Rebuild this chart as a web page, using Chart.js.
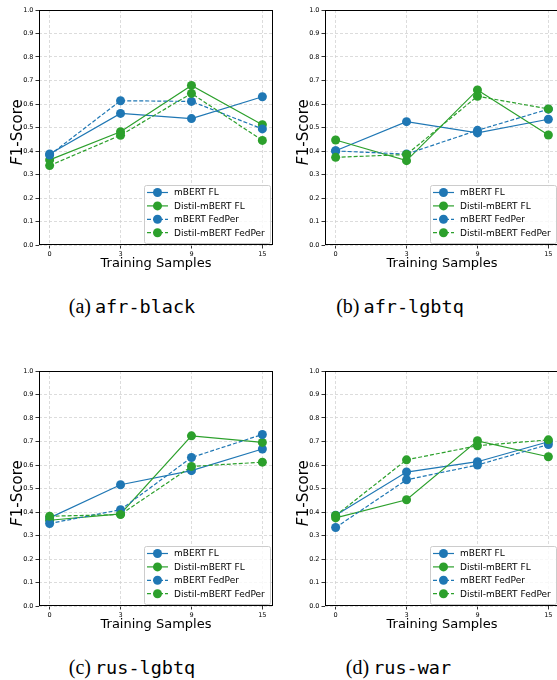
<!DOCTYPE html>
<html>
<head>
<meta charset="utf-8">
<script src="https://cdn.jsdelivr.net/npm/chart.js@4.4.1/dist/chart.umd.min.js"></script>
<style>
  html, body { margin:0; padding:0; background:#fff; }
  body { width:557px; height:680px; overflow:hidden; position:relative; }
  .panel { position:absolute; width:278px; height:280px; }
  .cap { position:absolute; height:24px; line-height:24px; text-align:center; color:#000; white-space:nowrap; }
  .cap .ser { font-family:"Liberation Serif", serif; font-size:20px; }
  .cap .mono { font-family:"DejaVu Sans Mono", monospace; font-size:18.5px; }
</style>
</head>
<body>
<div class="panel" style="left:0;top:0"><canvas id="c0" width="278" height="280"></canvas></div>
<div class="panel" style="left:286px;top:0"><canvas id="c1" width="278" height="280"></canvas></div>
<div class="panel" style="left:0;top:361px"><canvas id="c2" width="278" height="280"></canvas></div>
<div class="panel" style="left:286px;top:361px"><canvas id="c3" width="278" height="280"></canvas></div>

<div class="cap" style="left:0;width:264px;top:294px"><span class="ser">(a)</span> <span class="mono">afr-black</span></div>
<div class="cap" style="left:278px;width:244px;top:294px"><span class="ser">(b)</span> <span class="mono">afr-lgbtq</span></div>
<div class="cap" style="left:0;width:264px;top:655px"><span class="ser">(c)</span> <span class="mono">rus-lgbtq</span></div>
<div class="cap" style="left:278px;width:241px;top:655px"><span class="ser">(d)</span> <span class="mono">rus-war</span></div>

<script>
// ---- data ----
const xLabels = ['0', '3', '9', '15'];
const yTicks = [0.0, 0.1, 0.2, 0.3, 0.4, 0.5, 0.6, 0.7, 0.8, 0.9, 1.0];
const seriesNames = ['mBERT FL', 'Distil-mBERT FL', 'mBERT FedPer', 'Distil-mBERT FedPer'];

// (a) afr-black
const afrBlack_mbertFL       = [0.387, 0.560, 0.538, 0.631];
const afrBlack_distilFL      = [0.362, 0.482, 0.679, 0.512];
const afrBlack_mbertFedPer   = [0.383, 0.614, 0.611, 0.494];
const afrBlack_distilFedPer  = [0.338, 0.467, 0.645, 0.445];
// (b) afr-lgbtq
const afrLgbtq_mbertFL       = [0.401, 0.525, 0.477, 0.535];
const afrLgbtq_distilFL      = [0.447, 0.359, 0.660, 0.468];
const afrLgbtq_mbertFedPer   = [0.400, 0.387, 0.488, 0.578];
const afrLgbtq_distilFedPer  = [0.373, 0.385, 0.633, 0.579];
// (c) rus-lgbtq
const rusLgbtq_mbertFL       = [0.375, 0.516, 0.576, 0.668];
const rusLgbtq_distilFL      = [0.365, 0.392, 0.724, 0.696];
const rusLgbtq_mbertFedPer   = [0.351, 0.410, 0.632, 0.730];
const rusLgbtq_distilFedPer  = [0.382, 0.389, 0.594, 0.612];
// (d) rus-war
const rusWar_mbertFL         = [0.386, 0.570, 0.614, 0.699];
const rusWar_distilFL        = [0.375, 0.452, 0.703, 0.635];
const rusWar_mbertFedPer     = [0.334, 0.537, 0.600, 0.687];
const rusWar_distilFedPer    = [0.385, 0.622, 0.682, 0.707];

const panels = [
  [afrBlack_mbertFL, afrBlack_distilFL, afrBlack_mbertFedPer, afrBlack_distilFedPer],
  [afrLgbtq_mbertFL, afrLgbtq_distilFL, afrLgbtq_mbertFedPer, afrLgbtq_distilFedPer],
  [rusLgbtq_mbertFL, rusLgbtq_distilFL, rusLgbtq_mbertFedPer, rusLgbtq_distilFedPer],
  [rusWar_mbertFL, rusWar_distilFL, rusWar_mbertFedPer, rusWar_distilFedPer]
];

// ---- styles ----
const BLUE = '#1f77b4', GREEN = '#2ca02c';
const colors = [BLUE, GREEN, BLUE, GREEN];
const dashes = [[], [], [4, 2], [4, 2]];
const FONT = '"DejaVu Sans", sans-serif';

const framePlugin = {
  id: 'frameAndTitles',
  afterDraw(chart) {
    const ctx = chart.ctx, a = chart.chartArea;
    ctx.save();
    // frame
    const l = Math.round(a.left) + 0.5, t = Math.round(a.top) + 0.5;
    const r = Math.round(a.right) - 0.5, b = Math.round(a.bottom) - 0.5;
    ctx.strokeStyle = '#000';
    ctx.lineWidth = 1;
    ctx.setLineDash([]);
    ctx.strokeRect(l, t, r - l, b - t);

    // x title
    ctx.fillStyle = '#000';
    ctx.font = '13px ' + FONT;
    ctx.textAlign = 'center';
    ctx.textBaseline = 'middle';
    ctx.fillText('Training Samples', (a.left + a.right) / 2, a.bottom + 19);

    // y title (italic F + 1-Score)
    ctx.translate(18, (a.top + a.bottom) / 2 + 5);
    ctx.rotate(-Math.PI / 2);
    ctx.textAlign = 'left';
    ctx.textBaseline = 'middle';
    const fItal = 'italic 15px ' + FONT, fNorm = '15px ' + FONT;
    ctx.font = fItal; const w1 = ctx.measureText('F').width;
    ctx.font = fNorm; const w2 = ctx.measureText('1-Score').width;
    const x0 = -(w1 + w2) / 2;
    ctx.font = fItal; ctx.fillText('F', x0, 0);
    ctx.font = fNorm; ctx.fillText('1-Score', x0 + w1 + 0.5, 0);
    ctx.restore();

    // legend
    ctx.save();
    const bw = 126, bh = 58;
    const bx = a.right - 3 - bw, by = a.bottom - 2 - bh;
    ctx.beginPath();
    if (ctx.roundRect) ctx.roundRect(bx + 0.5, by + 0.5, bw, bh, 2); else ctx.rect(bx + 0.5, by + 0.5, bw, bh);
    ctx.fillStyle = 'rgba(255,255,255,0.8)';
    ctx.fill();
    ctx.strokeStyle = '#cccccc';
    ctx.lineWidth = 1;
    ctx.stroke();
    ctx.font = '9px ' + FONT;
    ctx.textAlign = 'left';
    ctx.textBaseline = 'middle';
    chart.data.datasets.forEach((ds, i) => {
      const cy = by + 7.5 + i * 13.4;
      ctx.strokeStyle = ds.borderColor;
      ctx.lineWidth = 1.2;
      ctx.setLineDash(ds.borderDash || []);
      ctx.beginPath();
      ctx.moveTo(bx + 3, cy);
      ctx.lineTo(bx + 24, cy);
      ctx.stroke();
      ctx.setLineDash([]);
      ctx.fillStyle = ds.borderColor;
      ctx.beginPath();
      ctx.arc(bx + 13.5, cy, 4.5, 0, Math.PI * 2);
      ctx.fill();
      ctx.fillStyle = '#000';
      ctx.fillText(ds.label, bx + 30, cy + 0.5);
    });
    ctx.restore();
  }
};

panels.forEach((series, p) => {
  const datasets = series.map((vals, k) => ({
    label: seriesNames[k],
    data: vals.map((v, i) => ({ x: i, y: v })),
    borderColor: colors[k],
    backgroundColor: colors[k],
    borderWidth: 1.2,
    borderDash: dashes[k],
    pointRadius: 4.5,
    pointHoverRadius: 4.5,
    pointBackgroundColor: colors[k],
    pointBorderColor: colors[k],
    pointBorderWidth: 0,
    tension: 0,
    fill: false,
    order: 3 - k
  }));
  new Chart(document.getElementById('c' + p), {
    type: 'line',
    data: { datasets },
    options: {
      responsive: false,
      animation: false,
      devicePixelRatio: 1,
      layout: { padding: { top: 10, right: 5, left: 0, bottom: 0 } },
      plugins: { legend: { display: false }, tooltip: { enabled: false }, title: { display: false } },
      scales: {
        x: {
          type: 'linear',
          min: -0.15, max: 3.15,
          afterBuildTicks: s => { s.ticks = xLabels.map((_, i) => ({ value: i })); },
          afterFit: s => { s.height = 35; },
          ticks: {
            callback: v => xLabels[Math.round(v)],
            font: { family: FONT, size: 6.5 },
            color: '#000',
            padding: 2,
            maxRotation: 0,
            autoSkip: false
          },
          grid: { color: '#d3d3d3', lineWidth: 0.8, drawTicks: true, tickLength: 3.5, tickColor: '#000', tickWidth: 0.8 },
          border: { display: false, dash: [3, 2] }
        },
        y: {
          type: 'linear',
          min: 0, max: 1,
          afterBuildTicks: s => { s.ticks = yTicks.map(v => ({ value: v })); },
          afterFit: s => { s.width = 39; },
          ticks: {
            callback: v => Number(v).toFixed(1),
            font: { family: FONT, size: 6.5 },
            color: '#000',
            padding: 2,
            autoSkip: false
          },
          grid: { color: '#d3d3d3', lineWidth: 0.8, drawTicks: true, tickLength: 3.5, tickColor: '#000', tickWidth: 0.8 },
          border: { display: false, dash: [3, 2] }
        }
      }
    },
    plugins: [framePlugin]
  });
});
</script>
</body>
</html>
